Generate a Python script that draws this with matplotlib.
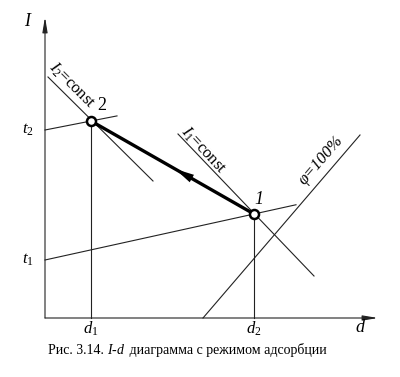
import numpy as np
import matplotlib.pyplot as plt

plt.rcParams['font.family'] = 'Liberation Serif'
plt.rcParams['mathtext.fontset'] = 'custom'
plt.rcParams['mathtext.rm'] = 'Liberation Serif'
plt.rcParams['mathtext.it'] = 'Liberation Serif:italic'

# diagram values (d, I), origin at the axes corner
point_2 = (46, 197)
point_1 = (209, 104)
t2 = 188
t1 = 58
d_max, I_max = 333, 301

# t = const lines (end d) through the points
t2_line_end = 72
t1_line_end = 251
# I = const lines
I2_line = [(3, 241), (108, 137)]
I1_line = [(133, 184), (269, 42)]
# phi = 100 % curve
phi_line = [(158, 0), (315, 183)]

thin = dict(color='#222222', lw=0.8)

fig = plt.figure(figsize=(4.0, 3.77), dpi=100)
ax = fig.add_axes([0, 0, 1, 1])
ax.set_xlim(-45, 355)
ax.set_ylim(-59, 318)
ax.axis('off')

# axes with narrow arrows
axis_arrow = dict(arrowstyle='-|>,head_length=0.9,head_width=0.15', color='#222222',
                  lw=0.8, mutation_scale=10, shrinkA=0, shrinkB=0)
ax.annotate('', xy=(0, I_max), xytext=(0, 0), arrowprops=axis_arrow)
ax.annotate('', xy=(d_max, 0), xytext=(0, 0), arrowprops=axis_arrow)

# t lines
k2 = (point_2[1] - t2) / point_2[0]
ax.plot([0, t2_line_end], [t2, t2 + k2 * t2_line_end], **thin)
k1 = (point_1[1] - t1) / point_1[0]
ax.plot([0, t1_line_end], [t1, t1 + k1 * t1_line_end], **thin)

# I = const and phi lines
ax.plot(*zip(*I2_line), **thin)
ax.plot(*zip(*I1_line), **thin)
ax.plot(*zip(*phi_line), **thin)

# verticals to the d axis
ax.plot([point_2[0], point_2[0]], [0, point_2[1]], **thin)
ax.plot([point_1[0], point_1[0]], [0, point_1[1]], **thin)

# process 1 -> 2
ax.plot([point_1[0], point_2[0]], [point_1[1], point_2[1]], color='black', lw=2.4)
dx = point_2[0] - point_1[0]
dy = point_2[1] - point_1[1]
tip = (point_1[0] + 0.485 * dx, point_1[1] + 0.485 * dy)
base = (point_1[0] + 0.38 * dx, point_1[1] + 0.38 * dy)
ax.annotate('', xy=tip, xytext=base,
            arrowprops=dict(arrowstyle='-|>,head_length=1.0,head_width=0.22',
                            color='black', lw=0, mutation_scale=14,
                            shrinkA=0, shrinkB=0))

ax.plot(*point_2, 'o', ms=6.5, mfc='white', mec='black', mew=1.8, zorder=5)
ax.plot(*point_1, 'o', ms=6.5, mfc='white', mec='black', mew=1.8, zorder=5)

# labels
ax.text(-18, 296, 'I', fontsize=13, style='italic', ha='center', va='center')
ax.text(315, -9, 'd', fontsize=13, style='italic', ha='center', va='center')
ax.text(-11, t2, r'$t_2$', fontsize=12, ha='right', va='center')
ax.text(-11, t1, r'$t_1$', fontsize=12, ha='right', va='center')
ax.text(point_2[0], -11, r'$d_1$', fontsize=12, ha='center', va='center')
ax.text(point_1[0], -11, r'$d_2$', fontsize=12, ha='center', va='center')
ax.text(point_2[0] + 11, point_2[1] + 15, '2', fontsize=13, ha='center', va='center')
ax.text(point_1[0] + 5, point_1[1] + 14, '1', fontsize=13, style='italic',
        ha='center', va='center')

ax.text(27, 233, r'$I_2$=const', fontsize=12, rotation=-45,
        rotation_mode='anchor', ha='center', va='center')
ax.text(158, 168, r'$I_1$=const', fontsize=12, rotation=-47,
        rotation_mode='anchor', ha='center', va='center')
ax.text(276, 158, 'φ=100%', fontsize=12, style='italic', rotation=49,
        rotation_mode='anchor', ha='center', va='center')

# caption
cap1 = ax.text(3, -32, 'Рис. 3.14. ', fontsize=10, ha='left', va='center')
cap2 = ax.annotate(r'$I\text{-}d$', xycoords=cap1, xy=(1, 0.5),
                   fontsize=10, ha='left', va='center')
ax.annotate(' диаграмма с режимом адсорбции', xycoords=cap2, xy=(1, 0.5),
            fontsize=10, ha='left', va='center')

fig.savefig('out.png', dpi=100, facecolor='white')
